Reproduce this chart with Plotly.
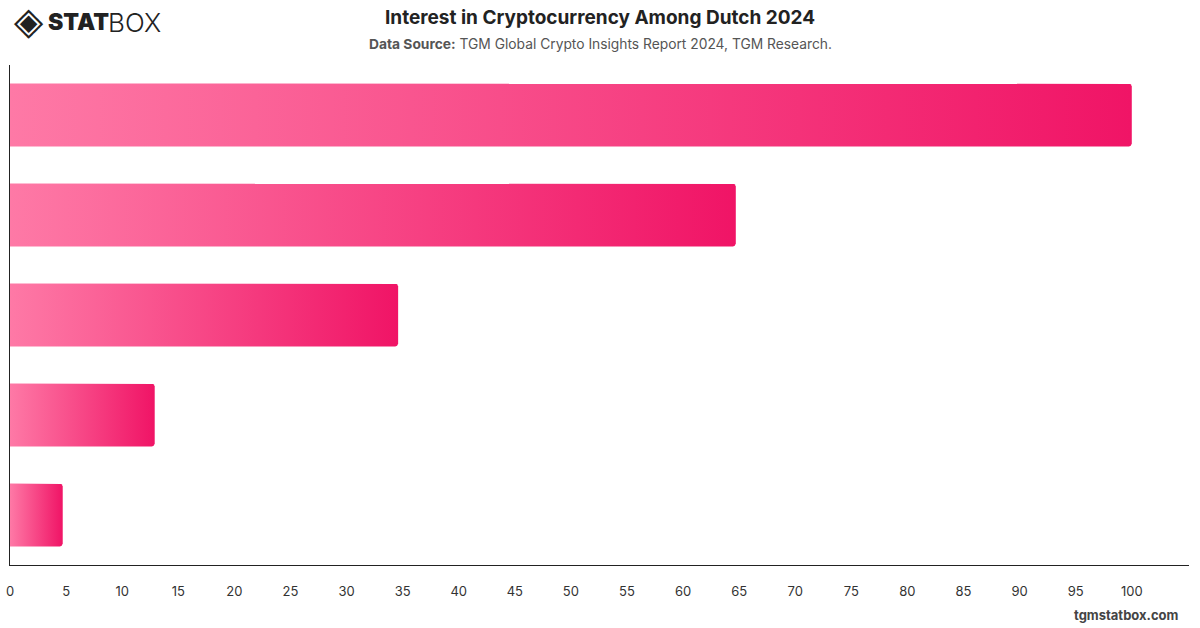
import numpy as np
import plotly.graph_objects as go

# ---- data ----
categories = ["Category A", "Category B", "Category C", "Category D", "Category E"]
values = [100, 64.7, 34.6, 12.9, 4.7]
x_ticks = list(range(0, 105, 5))

# ---- styling ----
COLOR_LEFT = "#fe79a6"
COLOR_RIGHT = "#f01466"
BAR_HALF = 0.315
FONT = "Inter, 'Open Sans', Roboto, sans-serif"

X_MAX = 105.1
plot_w_px = 1200 - 10 - 11
rx = 3.0 / (plot_w_px / X_MAX)   # corner radius in x data units
ry = 3.0 / 100.0                 # corner radius in y data units (100px per category)

fig = go.Figure()
theta = np.linspace(0, np.pi / 2, 7)
for i, (cat, v) in enumerate(zip(categories, values)):
    y0, y1 = i - BAR_HALF, i + BAR_HALF
    xs = [0, v - rx]
    ys = [y0, y0]
    xs += list(v - rx + rx * np.sin(theta))
    ys += list(y0 + ry - ry * np.cos(theta))
    xs += list(v - rx + rx * np.cos(theta))
    ys += list(y1 - ry + ry * np.sin(theta))
    xs += [0, 0]
    ys += [y1, y0]
    fig.add_trace(go.Scatter(
        x=xs, y=ys, mode="lines", fill="toself",
        line=dict(width=0, color=COLOR_RIGHT),
        fillgradient=dict(type="horizontal", start=0, stop=v,
                          colorscale=[[0, COLOR_LEFT], [1, COLOR_RIGHT]]),
        name=cat, hoveron="fills", text=f"{cat}: {v}", hoverinfo="text",
        showlegend=False,
    ))

fig.update_layout(
    width=1200, height=628,
    margin=dict(l=10, r=11, t=65, b=63),
    paper_bgcolor="white", plot_bgcolor="white",
    font=dict(family=FONT, color="#333"),
    xaxis=dict(range=[0, X_MAX], tickvals=x_ticks, ticktext=[str(t) for t in x_ticks],
               showgrid=False, zeroline=False, showline=True, linecolor="#222", linewidth=1,
               ticks="", tickfont=dict(size=13, color="#333"), ticklabelstandoff=14,
               automargin=False, fixedrange=True),
    yaxis=dict(range=[len(categories) - 0.5, -0.5], showticklabels=False, showgrid=False,
               zeroline=False, showline=True, linecolor="#222", linewidth=1, ticks="",
               automargin=False, fixedrange=True),
)

def top_ann(text, x_px, y_px, anchor, size, color, weight="normal", family=FONT):
    fig.add_annotation(text=text, xref="paper", yref="paper", x=0, y=1,
                       xanchor=anchor, yanchor="middle",
                       xshift=x_px - 10, yshift=65 - y_px, showarrow=False,
                       font=dict(size=size, color=color, family=family, weight=weight))

top_ann("<b>Interest in Cryptocurrency Among Dutch 2024</b>", 600, 17, "center", 19, "#222")
top_ann("<b>Data Source:</b> TGM Global Crypto Insights Report 2024, TGM Research.",
        600, 44, "center", 13.8, "#555")
# logo
top_ann("◈", 12, 21, "left", 38, "#222", family="DejaVu Sans")
top_ann("STAT", 46, 22, "left", 23, "#222", weight=900)
top_ann("BOX", 106, 22, "left", 26, "#222", weight=300)

# footer
fig.add_annotation(text="<b>tgmstatbox.com</b>", xref="paper", yref="paper", x=1, y=0,
                   xanchor="right", yanchor="middle", xshift=-8, yshift=-(615 - 565),
                   showarrow=False, font=dict(size=13, color="#444", family=FONT))

fig.write_html("out.html")
